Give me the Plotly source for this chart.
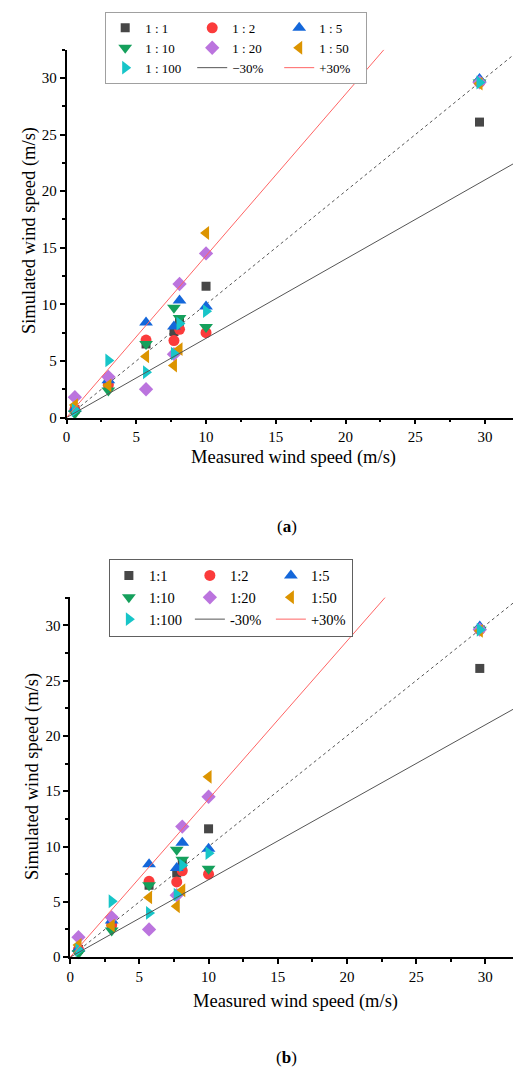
import plotly.graph_objects as go

# ---------------- data ----------------
measured = [0.6, 3.0, 5.7, 7.7, 8.1, 10.0, 29.6]

sim_1_1 = [0.7, 3.1, 6.5, 7.6, 8.5, 11.6, 26.1]
sim_1_2 = [0.7, 2.9, 6.85, 6.8, 7.8, 7.5, 29.6]
sim_1_5 = [0.75, 3.3, 8.4, 8.05, 10.35, 9.8, 29.9]
sim_1_10 = [0.35, 2.4, 6.5, 9.7, 8.8, 8.0, 29.6]
sim_1_20 = [1.8, 3.6, 2.5, 5.6, 11.8, 14.5, 29.6]
sim_1_50 = [1.1, 2.85, 5.4, 4.6, 6.05, 16.3, 29.5]
sim_1_100 = [0.65, 5.05, 4.0, 5.65, 8.3, 9.4, 29.6]

names_a = ["1 : 1", "1 : 2", "1 : 5", "1 : 10", "1 : 20", "1 : 50", "1 : 100"]
names_b = ["1:1", "1:2", "1:5", "1:10", "1:20", "1:50", "1:100"]
line_names_a = ["\u221230%", "+30%"]
line_names_b = ["-30%", "+30%"]

# reference lines (end points)
diag_x = [0, 32]
diag_y = [0, 32]
minus_x = [0, 32]
minus_y = [0, 22.4]
plus_x = [0, 22.75]
plus_y = [0, 32.5]

series = [sim_1_1, sim_1_2, sim_1_5, sim_1_10, sim_1_20, sim_1_50, sim_1_100]
symbols = ["square", "circle", "triangle-up", "triangle-down", "diamond",
           "triangle-left", "triangle-right"]
sizes = [9, 11, 12, 12, 11, 12, 12]
colors = ["#474747", "#fb3b3b", "#1467da", "#15a05c", "#bb74de",
          "#dc9400", "#17c5c8"]
groups = [1, 2, 3, 1, 2, 3, 1]

SERIF = "Liberation Serif"

fig = go.Figure()


def add_panel(xa, ya, legend, names, line_names, tag, minus_col, plus_col):
    # dotted 1:1 line (no legend)
    fig.add_trace(go.Scatter(
        x=diag_x, y=diag_y, mode="lines", showlegend=False,
        line=dict(color="#555555", width=1, dash="dot"),
        xaxis=xa, yaxis=ya, hoverinfo="skip"))
    for i, ys in enumerate(series):
        fig.add_trace(go.Scatter(
            x=measured, y=ys, mode="markers", name=names[i],
            marker=dict(symbol=symbols[i], size=sizes[i], color=colors[i],
                        line=dict(width=0)),
            legend=legend, legendgroup=f"{tag}{groups[i]}",
            legendrank=i + 1,
            cliponaxis=False, xaxis=xa, yaxis=ya))
    fig.add_trace(go.Scatter(
        x=minus_x, y=minus_y, mode="lines", name=line_names[0],
        line=dict(color=minus_col, width=1),
        legend=legend, legendgroup=f"{tag}2", legendrank=8,
        xaxis=xa, yaxis=ya))
    fig.add_trace(go.Scatter(
        x=plus_x, y=plus_y, mode="lines", name=line_names[1],
        line=dict(color=plus_col, width=1),
        legend=legend, legendgroup=f"{tag}3", legendrank=9,
        xaxis=xa, yaxis=ya))


add_panel("x", "y", "legend", names_a, line_names_a, "a", "#555555", "#ff6464")
add_panel("x2", "y2", "legend2", names_b, line_names_b, "b", "#555555", "#ff6464")

axis_common = dict(
    showline=True, linecolor="black", linewidth=1.5,
    ticks="outside", ticklen=5, tickwidth=1.5, tickcolor="black",
    tick0=0, dtick=5, showgrid=False, zeroline=False,
    tickfont=dict(family=SERIF, size=15, color="black"),
    minor=dict(ticks="outside", ticklen=3, tickwidth=1.5, tickcolor="black",
               tick0=0, dtick=2.5, showgrid=False),
)

W, H = 513, 1075

title_font = dict(family=SERIF, size=18.5, color="black")
label_font = dict(family=SERIF, size=17, color="black")


def ann(text, px, py, font, angle=0):
    return dict(text=text, x=px / W, y=1 - py / H, xref="paper", yref="paper",
                xanchor="center", yanchor="middle", showarrow=False,
                textangle=angle, font=font)


fig.update_layout(
    width=W, height=H,
    margin=dict(l=0, r=0, t=0, b=0),
    paper_bgcolor="white", plot_bgcolor="white",
    font=dict(family=SERIF, color="black"),
    xaxis=dict(domain=[63 / W, 1], range=[0, 32], anchor="y", **axis_common),
    yaxis=dict(domain=[1 - 420.7 / H, 1 - 50 / H], range=[0, 32.5],
               anchor="x", **axis_common),
    xaxis2=dict(domain=[66.7 / W, 1], range=[0, 32], anchor="y2", **axis_common),
    yaxis2=dict(domain=[1 - 964.3 / H, 1 - 601 / H], range=[0, 32.6],
                anchor="x2", **axis_common),
    legend=dict(
        x=102 / W, y=1 - 12 / H, xanchor="left", yanchor="top",
        orientation="h", traceorder="grouped", entrywidth=42,
        entrywidthmode="pixels", tracegroupgap=0,
        bordercolor="#a0a0a0", borderwidth=1, bgcolor="white",
        font=dict(family=SERIF, size=13, color="black")),
    legend2=dict(
        x=105.7 / W, y=1 - 562.7 / H, xanchor="left", yanchor="top",
        orientation="h", traceorder="grouped", entrywidth=36,
        entrywidthmode="pixels", tracegroupgap=0,
        bordercolor="#606060", borderwidth=1, bgcolor="white",
        font=dict(family=SERIF, size=14.5, color="black")),
    annotations=[
        ann("Simulated wind speed (m/s)", 25, 232, title_font, -90),
        ann("Measured wind speed (m/s)", 292, 461, title_font),
        ann("(<b>a</b>)", 285, 530, label_font),
        ann("Simulated wind speed (m/s)", 28, 782, title_font, -90),
        ann("Measured wind speed (m/s)", 294, 1009, title_font),
        ann("(<b>b</b>)", 285, 1065, label_font),
    ],
)

fig.write_html("out.html")
